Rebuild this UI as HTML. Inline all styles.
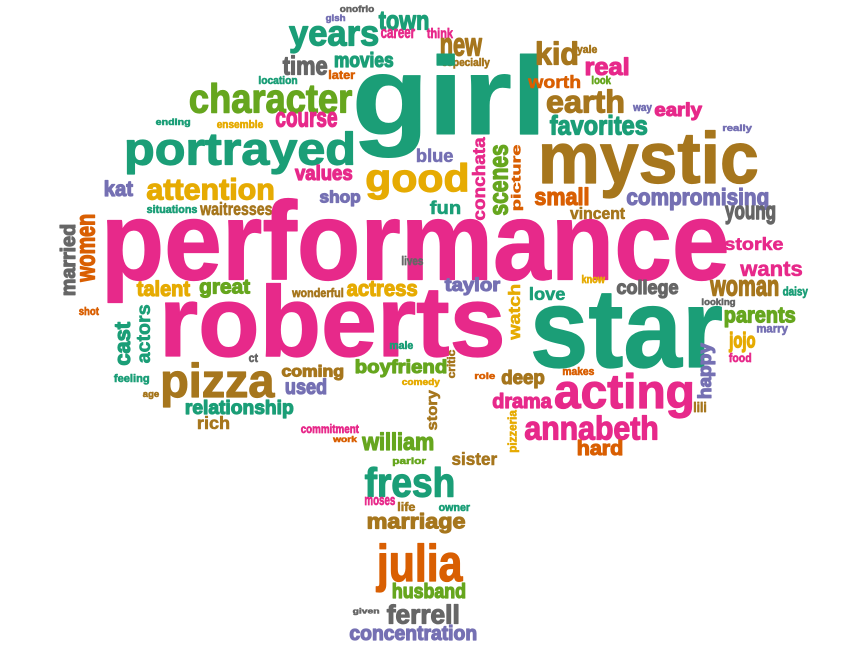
<!DOCTYPE html>
<html><head><meta charset="utf-8">
<style>
html,body{margin:0;padding:0;background:#fff;}
#cloud{position:absolute;left:0;top:0;}
</style></head>
<body>
<svg id="cloud" width="864" height="648" viewBox="0 0 864 648" xmlns="http://www.w3.org/2000/svg"></svg>
<script>
// word list and colour category (data)
const words = ["onofrio","gish","town","career","think","years","new","especially","movies","time","later","location","girl","kid","yale","real","worth","look","earth","way","early","favorites","really","mystic","conchata","scenes","picture","small","compromising","vincent","young","character","ending","ensemble","course","portrayed","blue","values","good","attention","kat","shop","fun","situations","waitresses","performance","married","women","lives","talent","great","wonderful","actress","shot","roberts","cast","actors","male","ct","pizza","coming","boyfriend","comedy","used","feeling","age","relationship","rich","commitment","work","william","story","critic","taylor","watch","love","know","college","storke","wants","woman","daisy","looking","star","parents","marry","jojo","food","happy","lili","makes","role","deep","acting","drama","annabeth","pizzeria","hard","sister","parlor","fresh","moses","life","owner","marriage","julia","husband","given","ferrell","concentration"];
const colorKeys = ["gray","purple","teal","pink","pink","teal","olive","olive","teal","gray","orange","teal","teal","olive","olive","pink","orange","lime","olive","purple","pink","teal","purple","olive","pink","lime","orange","orange","purple","olive","gray","lime","teal","yellow","pink","teal","purple","pink","yellow","yellow","purple","purple","teal","teal","olive","pink","gray","orange","gray","yellow","lime","olive","yellow","orange","pink","teal","teal","teal","gray","olive","olive","lime","yellow","purple","teal","olive","teal","olive","pink","orange","lime","olive","olive","purple","yellow","teal","yellow","gray","pink","pink","olive","teal","gray","teal","lime","purple","yellow","pink","purple","olive","orange","orange","olive","pink","pink","pink","yellow","orange","olive","lime","teal","pink","olive","teal","olive","orange","lime","gray","gray","purple"];
const palette = {teal:"#1b9e77",pink:"#e7298a",olive:"#a6761d",orange:"#d95f02",purple:"#7570b3",lime:"#66a61e",yellow:"#e6ab02",gray:"#666666"};
// layout: ink box [x1,y1,x2,y2], vertical flag
const layout = [
[340,5,374,12,0],[326,14,345,23,0],[379,12,428,30,0],[381,29,415,38,0],[427,28,453,38,0],[289,26,378,53,0],[441,38,482,56,0],[442,58,490,68,0],[335,52,393,67,0],[283,56,327,75,0],[329,70,355,79,0],[259,76,297,84,0],[357,53,538,157,0],[537,42,577,65,0],[577,45,597,55,0],[586,57,628,75,0],[528,75,580,88,0],[592,76,611,84,0],[547,90,623,113,0],[633,105,652,113,0],[655,103,702,120,0],[550,115,647,135,0],[723,124,752,133,0],[542,130,757,198,0],[472,137,485,220,1],[493,145,508,215,1],[511,145,523,210,1],[535,187,588,205,0],[627,188,768,210,0],[570,207,625,219,0],[725,206,775,224,0],[190,83,352,113,0],[156,118,190,127,0],[217,120,263,128,0],[276,112,337,127,0],[127,131,353,174,0],[417,148,453,162,0],[295,165,352,180,0],[367,163,467,200,0],[147,178,273,200,0],[105,180,133,196,0],[320,190,360,206,0],[430,200,460,214,0],[147,205,197,213,0],[200,202,272,215,0],[107,198,727,303,0],[60,225,75,295,1],[80,215,95,282,1],[402,256,423,265,0],[137,280,190,296,0],[200,280,250,298,0],[292,288,343,297,0],[347,281,417,296,0],[79,307,99,315,0],[165,283,502,357,0],[115,322,130,365,1],[137,305,150,363,1],[390,341,413,349,0],[249,354,258,362,0],[163,363,275,407,0],[282,365,343,380,0],[356,360,446,377,0],[402,378,440,387,0],[286,378,326,394,0],[114,374,149,384,0],[143,392,159,399,0],[186,400,293,418,0],[198,416,229,429,0],[301,424,359,433,0],[333,436,357,442,0],[362,432,433,450,0],[427,390,440,430,1],[447,350,455,378,1],[445,278,500,295,0],[508,285,520,340,1],[530,287,565,300,0],[582,275,605,283,0],[617,280,678,298,0],[725,237,783,250,0],[740,262,802,276,0],[710,280,778,296,0],[783,287,808,298,0],[702,298,735,307,0],[533,293,722,368,0],[725,308,795,327,0],[757,326,788,335,0],[729,332,755,352,0],[729,353,751,362,0],[698,343,715,398,1],[694,402,706,412,0],[563,367,594,375,0],[475,372,495,379,0],[502,370,544,388,0],[555,373,692,418,0],[493,393,552,408,0],[525,415,657,440,0],[508,410,519,452,1],[578,440,622,455,0],[452,452,497,465,0],[393,457,426,466,0],[365,467,453,497,0],[365,497,395,505,0],[398,502,415,511,0],[439,505,470,511,0],[368,513,465,533,0],[376,543,463,592,0],[393,583,465,598,0],[353,608,379,615,0],[387,605,458,624,0],[350,625,476,640,0]
];
const NS = "http://www.w3.org/2000/svg";
const svg = document.getElementById('cloud');
const ctx = document.createElement('canvas').getContext('2d');
function draw(){
  while (svg.firstChild) svg.removeChild(svg.firstChild);
  ctx.font = 'bold 100px "Liberation Sans"';
  words.forEach((w, i) => {
    const b = layout[i];
    const m = ctx.measureText(w);
    const L = m.actualBoundingBoxLeft, R = m.actualBoundingBoxRight;
    const A = m.actualBoundingBoxAscent, D = m.actualBoundingBoxDescent;
    const iw = L + R, ih = A + D;
    const t = document.createElementNS(NS, 'text');
    
    
    t.setAttribute('x', 0);
    t.setAttribute('y', 0);
    t.setAttribute('font-family', '"Liberation Sans", sans-serif');
    t.setAttribute('font-weight', 'bold');
    t.setAttribute('font-size', 100);
    const col = palette[colorKeys[i]];
    t.setAttribute('fill', col);
    t.setAttribute('stroke', col);
    const boxH = b[4] ? (b[2] - b[0]) : (b[3] - b[1]);
    t.setAttribute('stroke-width', boxH > 14 ? 1.2 : 0.6);
    t.setAttribute('stroke-linejoin', 'round');
    t.setAttribute('vector-effect', 'non-scaling-stroke');
    let tr;
    if (!b[4]) {
      const sx = (b[2] - b[0]) / iw, sy = (b[3] - b[1]) / ih;
      tr = `translate(${b[0] + L * sx},${b[1] + A * sy}) scale(${sx},${sy})`;
    } else {
      const sx = (b[3] - b[1]) / iw, sy = (b[2] - b[0]) / ih;
      tr = `translate(${b[0] + A * sy},${b[1] + R * sx}) rotate(-90) scale(${sx},${sy})`;
    }
    t.setAttribute('transform', tr);
    t.textContent = w;
    svg.appendChild(t);
  });
}
draw();
if (document.fonts && document.fonts.ready) document.fonts.ready.then(draw);
</script>
</body></html>
